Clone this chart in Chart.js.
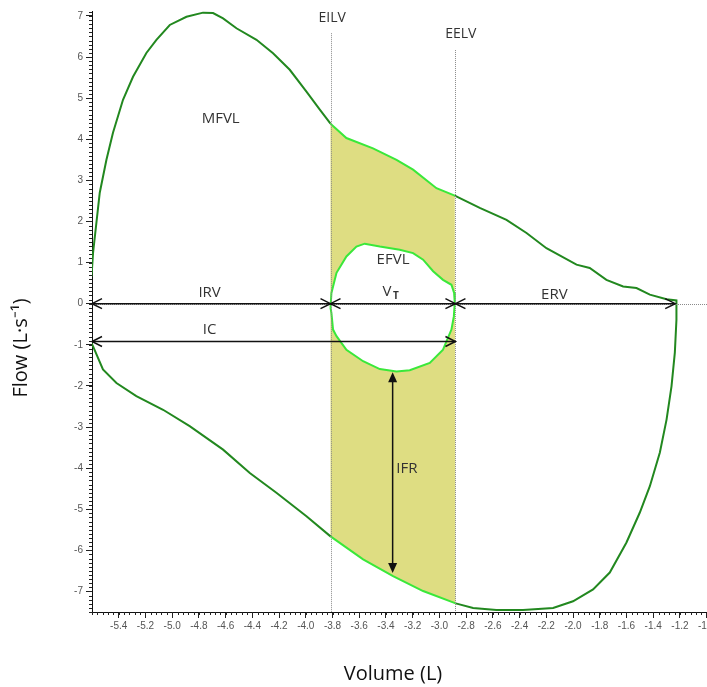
<!DOCTYPE html>
<html>
<head>
<meta charset="utf-8">
<script src="https://cdn.jsdelivr.net/npm/chart.js@4.4.1/dist/chart.umd.min.js"></script>
<style>
html, body { margin: 0; padding: 0; background: #fff; overflow: hidden; }
#wrap { width: 707px; height: 687px; overflow: hidden; position: relative; }
#loopChart { position: absolute; left: 0; top: 0; }
</style>
</head>
<body>
<div id="wrap"><canvas id="loopChart" width="745" height="687"></canvas></div>
<script>
// Maximal flow-volume loop (MFVL)
const mfvlVolume = [-5.604, -5.592, -5.542, -5.492, -5.443, -5.368, -5.293, -5.193, -5.118, -5.018,
    -4.893, -4.769, -4.694, -4.619, -4.519, -4.369, -4.245, -4.120, -3.995, -3.895,
    -3.815, -3.696, -3.497, -3.321, -3.197, -3.022, -2.885, -2.698, -2.498, -2.348,
    -2.199, -1.974, -1.875, -1.750, -1.625, -1.525, -1.425, -1.300, -1.226, -1.226,
    -1.238, -1.263, -1.300, -1.350, -1.425, -1.500, -1.600, -1.725, -1.850, -2.000,
    -2.149, -2.374, -2.573, -2.748, -2.878, -3.122, -3.347, -3.571, -3.815, -3.995,
    -4.220, -4.419, -4.619, -4.869, -5.068, -5.268, -5.417, -5.518, -5.592, -5.604];
const mfvlFlow = [0.66, 1.24, 2.70, 3.50, 4.16, 4.96, 5.52, 6.10, 6.42, 6.78,
    6.98, 7.08, 7.07, 6.94, 6.70, 6.42, 6.09, 5.69, 5.16, 4.72,
    4.38, 4.03, 3.78, 3.50, 3.26, 2.81, 2.63, 2.33, 2.04, 1.72,
    1.35, 0.95, 0.87, 0.58, 0.42, 0.38, 0.22, 0.11, 0.08, -0.39,
    -1.19, -2.01, -2.82, -3.62, -4.44, -5.08, -5.81, -6.54, -6.95, -7.24,
    -7.40, -7.45, -7.45, -7.40, -7.29, -6.99, -6.63, -6.22, -5.66, -5.17,
    -4.60, -4.12, -3.55, -2.98, -2.58, -2.25, -1.93, -1.60, -1.04, -0.96];

// Exercise (tidal) flow-volume loop (EFVL)
const efvlVolume = [-3.815, -3.808, -3.770, -3.696, -3.621, -3.559, -3.446, -3.297, -3.197, -3.122,
    -3.047, -2.973, -2.910, -2.890, -2.885, -2.892, -2.910, -2.973, -3.072, -3.222,
    -3.321, -3.446, -3.571, -3.696, -3.770, -3.796, -3.808, -3.815];
const efvlFlow = [-0.10, 0.26, 0.75, 1.15, 1.39, 1.46, 1.39, 1.31, 1.23, 1.07,
    0.79, 0.58, 0.46, 0.26, 0.02, -0.31, -0.63, -1.12, -1.44, -1.62,
    -1.65, -1.59, -1.40, -1.12, -0.79, -0.63, -0.23, -0.10];

// end-inspiratory / end-expiratory lung volume markers
const markerNames = ['EILV', 'EELV'];
const markerVolume = [-3.815, -2.88];
const markerTop = [6.58, 6.17];

// horizontal volume arrows
const arrowNames = ['IRV', 'VT', 'ERV', 'IC'];
const arrowFrom = [-5.6, -3.815, -2.88, -5.6];
const arrowTo = [-3.815, -2.88, -1.235, -2.88];
const arrowFlow = [0, 0, 0, -0.92];

// inspiratory flow reserve arrow
const ifrVolume = -3.35;
const ifrFrom = -1.67;
const ifrTo = -6.55;

// axis ticks
const xTickValues = [-5.4, -5.2, -5.0, -4.8, -4.6, -4.4, -4.2, -4.0, -3.8, -3.6, -3.4, -3.2, -3.0,
    -2.8, -2.6, -2.4, -2.2, -2.0, -1.8, -1.6, -1.4, -1.2, -1.0];
const yTickValues = [-7, -6, -5, -4, -3, -2, -1, 0, 1, 2, 3, 4, 5, 6, 7];

const darkGreen = '#22881f';
const brightGreen = '#3ae83a';
const shadeColor = '#dedd82';
const eilv = markerVolume[0];
const eelv = markerVolume[1];

const toPoints = (xs, ys) => xs.map((v, i) => ({ x: v, y: ys[i] }));

// shaded band between EILV and EELV, taken from the MFVL itself
const shadePoints = mfvlVolume
    .map((v, i) => ({ v, f: mfvlFlow[i] }))
    .filter(p => p.v >= eilv - 0.01 && p.v <= eelv + 0.01)
    .map(p => ({ x: Math.min(Math.max(p.v, eilv), eelv), y: p.f }));

// free text on the plot
const textNotes = [
    { text: 'MFVL', x: -4.637, y: 4.50 },
    { text: 'EFVL', x: -3.347, y: 1.07 },
    { text: 'IFR', x: -3.244, y: -4.01 },
    { text: 'IRV', x: -4.72, y: 0.27 },
    { text: 'ERV', x: -2.14, y: 0.21 },
    { text: 'IC', x: -4.72, y: -0.63 },
    { text: 'EILV', x: -3.803, y: 6.94 },
    { text: 'EELV', x: -2.84, y: 6.55 }
];

function openHead(ctx, tx, ty, dir) {
    ctx.beginPath();
    ctx.moveTo(tx - dir * 10, ty - 5);
    ctx.lineTo(tx, ty);
    ctx.lineTo(tx - dir * 10, ty + 5);
    ctx.stroke();
}

function filledHead(ctx, tx, ty, dir) {
    ctx.beginPath();
    ctx.moveTo(tx, ty);
    ctx.lineTo(tx - 4.5, ty - dir * 10);
    ctx.lineTo(tx + 4.5, ty - dir * 10);
    ctx.closePath();
    ctx.fill();
}

const loopMarks = {
    id: 'loopMarks',
    afterDatasetsDraw(chart) {
        const { ctx, chartArea: a, scales: { x, y } } = chart;
        ctx.save();

        // dotted zero line and volume markers
        ctx.strokeStyle = '#8a8a8a';
        ctx.lineWidth = 1;
        ctx.setLineDash([1, 1]);
        const y0 = Math.round(y.getPixelForValue(0)) + 0.5;
        ctx.beginPath();
        ctx.moveTo(a.left, y0);
        ctx.lineTo(a.right, y0);
        ctx.stroke();
        markerVolume.forEach((v, i) => {
            const px = Math.round(x.getPixelForValue(v)) + 0.5;
            ctx.beginPath();
            ctx.moveTo(px, y.getPixelForValue(markerTop[i]));
            ctx.lineTo(px, a.bottom);
            ctx.stroke();
        });
        ctx.setLineDash([]);

        // arrows
        ctx.strokeStyle = '#111';
        ctx.fillStyle = '#111';
        ctx.lineWidth = 1.5;
        arrowNames.forEach((name, i) => {
            const x1 = x.getPixelForValue(arrowFrom[i]);
            const x2 = x.getPixelForValue(arrowTo[i]);
            const py = y.getPixelForValue(arrowFlow[i]);
            ctx.beginPath();
            ctx.moveTo(x1, py);
            ctx.lineTo(x2, py);
            ctx.stroke();
            openHead(ctx, x1, py, -1);
            openHead(ctx, x2, py, 1);
        });
        const ix = x.getPixelForValue(ifrVolume);
        const iy1 = y.getPixelForValue(ifrFrom);
        const iy2 = y.getPixelForValue(ifrTo);
        ctx.beginPath();
        ctx.moveTo(ix, iy1 + 6);
        ctx.lineTo(ix, iy2 - 6);
        ctx.stroke();
        filledHead(ctx, ix, iy1, -1);
        filledHead(ctx, ix, iy2, 1);

        // labels
        ctx.fillStyle = '#333';
        ctx.textAlign = 'center';
        ctx.textBaseline = 'middle';
        textNotes.forEach(n => {
            ctx.font = (markerNames.includes(n.text) ? '14px' : '15px') + ' "Open Sans"';
            ctx.fillText(n.text, x.getPixelForValue(n.x), y.getPixelForValue(n.y));
        });
        // V with subscript T
        const vx = x.getPixelForValue(-3.37);
        const vy = y.getPixelForValue(0.29);
        ctx.font = '15px "Open Sans"';
        ctx.fillText('V', vx - 3, vy);
        ctx.font = 'bold 10px "Open Sans"';
        ctx.fillText('T', vx + 6, vy + 4);
        ctx.restore();
    },
    afterDraw(chart) {
        const { ctx, chartArea: a, scales: { x, y } } = chart;
        ctx.save();
        // minor ticks
        ctx.strokeStyle = '#222';
        ctx.lineWidth = 1;
        ctx.beginPath();
        for (let i = 0; ; i++) {
            const v = x.min + i * 0.04;
            if (v > x.max) break;
            const px = Math.round(x.getPixelForValue(v)) + 0.5;
            ctx.moveTo(px, a.bottom);
            ctx.lineTo(px, a.bottom + 3);
        }
        for (let i = 0; ; i++) {
            const v = -7.5 + i * 0.1;
            if (v > y.max) break;
            const py = Math.round(y.getPixelForValue(v)) + 0.5;
            ctx.moveTo(a.left - 3, py);
            ctx.lineTo(a.left, py);
        }
        ctx.stroke();

        // axis titles
        ctx.fillStyle = '#111';
        ctx.font = '20px "Open Sans"';
        ctx.textAlign = 'center';
        ctx.textBaseline = 'alphabetic';
        ctx.fillText('Volume (L)', 393, 680);
        ctx.translate(27, 348);
        ctx.rotate(-Math.PI / 2);
        ctx.fillText('Flow (L\u00b7s\u207b\u00b9)', 0, 0);
        ctx.restore();
    }
};

const loopCtx = document.getElementById('loopChart').getContext('2d');
new Chart(loopCtx, {
    type: 'scatter',
    data: {
        datasets: [
            {
                data: toPoints(efvlVolume, efvlFlow),
                showLine: true,
                borderColor: brightGreen,
                borderWidth: 2,
                backgroundColor: '#ffffff',
                fill: 'shape',
                pointRadius: 0,
                order: 1
            },
            {
                data: toPoints(mfvlVolume, mfvlFlow),
                showLine: true,
                borderColor: darkGreen,
                borderWidth: 2,
                pointRadius: 0,
                fill: false,
                order: 2,
                segment: {
                    borderColor: c => {
                        const lo = Math.min(c.p0.parsed.x, c.p1.parsed.x);
                        const hi = Math.max(c.p0.parsed.x, c.p1.parsed.x);
                        return lo >= eilv - 0.01 && hi <= eelv + 0.01 ? brightGreen : darkGreen;
                    }
                }
            },
            {
                data: shadePoints,
                showLine: true,
                borderWidth: 0,
                borderColor: 'rgba(0,0,0,0)',
                backgroundColor: shadeColor,
                fill: 'shape',
                pointRadius: 0,
                order: 3
            }
        ]
    },
    options: {
        responsive: false,
        animation: false,
        layout: { padding: { left: 0, top: 11, right: 25, bottom: 0 } },
        scales: {
            x: {
                type: 'linear',
                min: -5.6,
                max: -0.9,
                afterFit: s => { s.height = 75; },
                afterBuildTicks: s => { s.ticks = xTickValues.map(v => ({ value: v })); },
                grid: { drawOnChartArea: false, tickLength: 6, tickColor: '#222' },
                border: { display: true, color: '#111', width: 1 },
                ticks: {
                    color: '#555',
                    padding: 2,
                    maxRotation: 0,
                    autoSkip: false,
                    font: { family: 'Liberation Sans', size: 10 },
                    callback: v => v.toFixed(1)
                }
            },
            y: {
                type: 'linear',
                min: -7.5,
                max: 7.12,
                afterFit: s => { s.width = 92; },
                afterBuildTicks: s => { s.ticks = yTickValues.map(v => ({ value: v })); },
                grid: { drawOnChartArea: false, tickLength: 6, tickColor: '#222' },
                border: { display: true, color: '#111', width: 1 },
                ticks: {
                    color: '#555',
                    padding: 3,
                    autoSkip: false,
                    font: { family: 'Liberation Sans', size: 10 },
                    callback: v => String(v)
                }
            }
        },
        plugins: {
            legend: { display: false },
            tooltip: { enabled: false }
        }
    },
    plugins: [loopMarks]
});
</script>
</body>
</html>
